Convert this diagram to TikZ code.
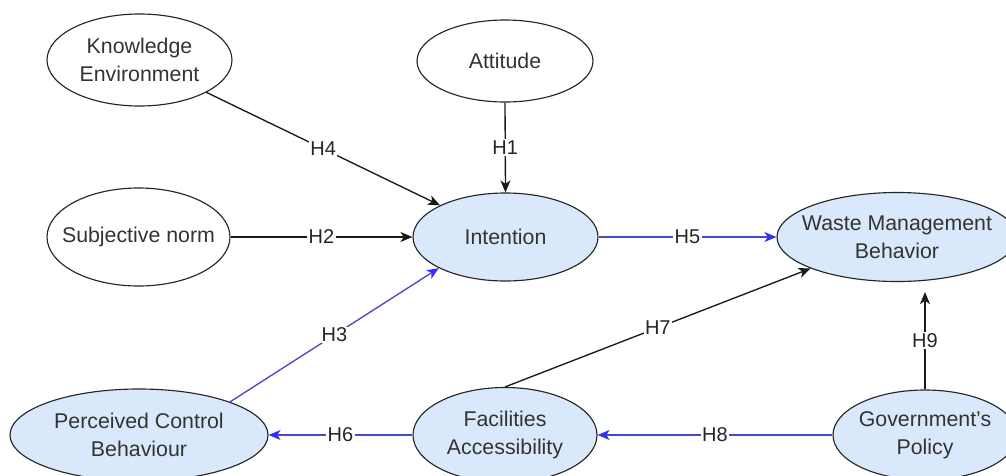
\documentclass[tikz,border=0pt]{standalone}
\usepackage{fontspec}
\setmainfont{Liberation Sans}
\usetikzlibrary{shapes.geometric, arrows.meta, calc}

\definecolor{txtgray}{HTML}{333333}
\definecolor{fillblue}{HTML}{DAE8FC}
\definecolor{edgeblue}{RGB}{72,72,200}
\definecolor{tipblue}{RGB}{50,50,245}

\begin{document}
\begin{tikzpicture}[x=0.75pt, y=-0.75pt,
  construct/.style 2 args={ellipse, draw=black!85, line width=0.85pt, inner sep=0pt,
    minimum width=#1*0.75pt, minimum height=#2*0.75pt},
  shaded/.style={fill=fillblue},
  unshaded/.style={fill=white},
  txt/.style={font=\fontsize{16}{21}\selectfont, text=txtgray, align=center},
  link/.style={line width=1pt, draw=black!90,
    -{Stealth[length=9pt, width=7.5pt, inset=2.5pt]}},
  bluelink/.style={line width=1pt, draw=edgeblue,
    -{Stealth[length=9pt, width=7.5pt, inset=2.5pt, color=tipblue]}},
  hyp/.style={fill=white, inner sep=1pt, font=\fontsize{15}{18}\selectfont, text=black!85}
]
% canvas
\fill[white] (0,0) rectangle (1006,475);
\clip (0,0) rectangle (1006,475);

% constructs
\node[construct={185}{92}, unshaded, label={[txt]center:{Knowledge\\Environment}}] (ke) at (139.5,60) {};
\node[construct={176}{82}, unshaded, label={[txt]center:{Attitude}}] (att) at (505,61) {};
\node[construct={183}{98}, unshaded, label={[txt]center:{Subjective norm}}] (sn) at (138.5,237) {};
\node[construct={185}{88}, shaded, label={[txt]center:{Intention}}] (int) at (505.5,237) {};
\node[construct={240}{89}, shaded, label={[txt]center:{Waste Management\\Behavior}}] (wmb) at (897,237) {};
\node[construct={258}{92}, shaded, label={[txt]center:{Perceived Control\\Behaviour}}] (pcb) at (139,435) {};
\node[construct={184}{95}, shaded, label={[txt]center:{Facilities\\Accessibility}}] (fa) at (505,435) {};
\node[construct={184}{90}, shaded, label={[txt]center:{Government's\\Policy}}] (gp) at (925,435) {};

% hypothesised paths
\draw[link] (att.south) -- node[hyp]{H1} (int.north);
\draw[link] (sn.east) -- node[hyp]{H2} (int.west);
\draw[link] (ke) -- node[hyp]{H4} (int);
\draw[bluelink] (pcb.20) -- node[hyp]{H3} (int.205);
\draw[bluelink] (int.east) -- node[hyp]{H5} (wmb.west);
\draw[bluelink] (fa.west) -- node[hyp]{H6} (pcb.east);
\draw[link] (fa.north) -- node[hyp]{H7} (wmb.200);
\draw[bluelink] (gp.west) -- node[hyp]{H8} (fa.east);
\draw[link] (gp.north) -- node[hyp]{H9} ($(gp.north |- wmb.south)+(0,10)$);
\end{tikzpicture}
\end{document}
